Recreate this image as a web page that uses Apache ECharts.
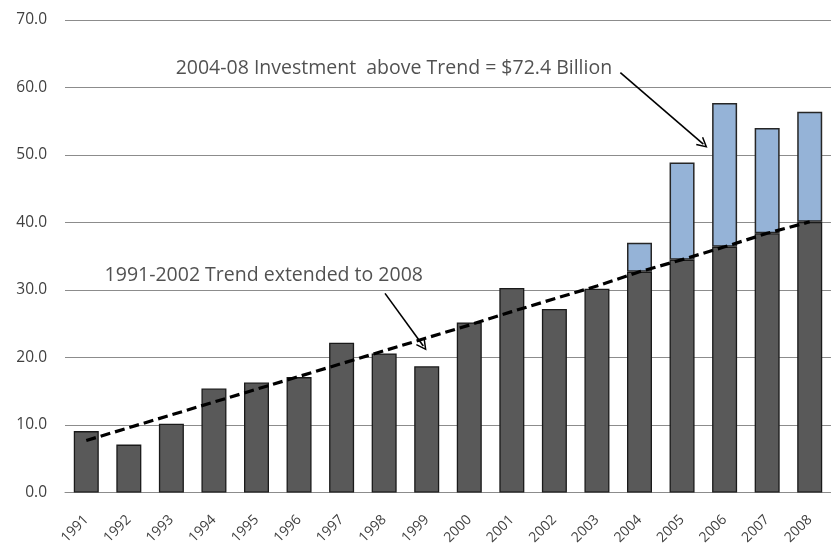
<!DOCTYPE html>
<html>
<head>
<meta charset="utf-8">
<script src="https://cdn.jsdelivr.net/npm/echarts@6/dist/echarts.min.js"></script>
<style>
html,body{margin:0;padding:0;background:#fff;}
#chart{width:831px;height:553px;}
</style>
</head>
<body>
<div id="chart"></div>
<script>
var years = ['1991','1992','1993','1994','1995','1996','1997','1998','1999','2000','2001','2002','2003','2004','2005','2006','2007','2008'];
// actual investment 1991-2003 (dark bars)
var actual = [9.1, 7.1, 10.2, 15.4, 16.3, 17.1, 22.2, 20.6, 18.7, 25.2, 30.3, 27.2, 30.2, null, null, null, null, null];
// 1991-2002 trend extended to 2008
var trend = [7.7, 9.6, 11.5, 13.4, 15.3, 17.2, 19.1, 21.0, 22.9, 24.8, 26.8, 28.7, 30.6, 32.7, 34.5, 36.4, 38.4, 40.1];
// total investment 2004-2008
var total = [null, null, null, null, null, null, null, null, null, null, null, null, null, 37.0, 48.9, 57.7, 54.0, 56.4];
var yTicks = [0, 10, 20, 30, 40, 50, 60, 70];

var annotations = [
  {text: '2004-08 Investment  above Trend = $72.4 Billion', pos: [2.1, 62.8]},
  {text: '1991-2002 Trend extended to 2008', pos: [0.43, 32.1]}
];
var arrows = [
  [[12.55, 62.2], [14.5, 51.6]],
  [[7.02, 29.5], [7.92, 21.7]]
];

var darkData = years.map(function(y, i){ return actual[i] != null ? actual[i] : trend[i]; });
var blueData = years.map(function(y, i){ return total[i] != null ? +(total[i] - trend[i]).toFixed(1) : null; });

var font = '"Open Sans", Lato, sans-serif';
var chart = echarts.init(document.getElementById('chart'));
chart.setOption({
  animation: false,
  backgroundColor: '#ffffff',
  grid: {left: 65, top: 20, width: 770, height: 472.5, containLabel: false},
  xAxis: [{
    type: 'category',
    data: years,
    axisLine: {show: true, lineStyle: {color: '#8c8c8c', width: 1}},
    axisTick: {show: false},
    axisLabel: {rotate: 45, color: '#404040', fontSize: 14, fontFamily: font, margin: 25, interval: 0}
  }, {
    type: 'value', min: -0.5, max: 17.5, show: false
  }],
  yAxis: {
    type: 'value', min: yTicks[0], max: yTicks[yTicks.length-1], interval: 10,
    axisLine: {show: false}, axisTick: {show: false},
    axisLabel: {color: '#404040', fontSize: 15.5, fontFamily: font, margin: 18,
      formatter: function(v){ return v.toFixed(1); }},
    splitLine: {lineStyle: {color: '#8c8c8c', width: 1}}
  },
  series: [{
    type: 'bar', name: 'Actual/Trend', stack: 's', data: darkData,
    barWidth: 25,
    itemStyle: {color: '#595959', borderColor: '#1a1a1a', borderWidth: 1.3}
  }, {
    type: 'bar', name: 'Above trend', stack: 's', data: blueData,
    barWidth: 25,
    itemStyle: {color: '#95b3d7', borderColor: '#262626', borderWidth: 1.5}
  }, {
    type: 'line', name: 'Trend', data: trend, symbol: 'none', z: 5,
    lineStyle: {color: '#000', width: 3.2, type: [10, 5]}
  }, {
    type: 'lines', coordinateSystem: 'cartesian2d', xAxisIndex: 1, z: 6,
    symbol: ['none', 'path://M5,0 L10,9 L8.8,9.6 L5,2.8 L1.2,9.6 L0,9 Z'],
    symbolSize: 11,
    lineStyle: {color: '#000', width: 1.6, opacity: 1},
    data: arrows.map(function(a){ return {coords: a}; })
  }, {
    type: 'scatter', xAxisIndex: 1, symbolSize: 0, z: 7,
    data: annotations.map(function(a){ return {value: a.pos, name: a.text}; }),
    label: {show: true, position: 'right', distance: 0, formatter: '{b}',
      color: '#262626', fontSize: 19.5, fontFamily: font}
  }]
});
</script>
</body>
</html>
